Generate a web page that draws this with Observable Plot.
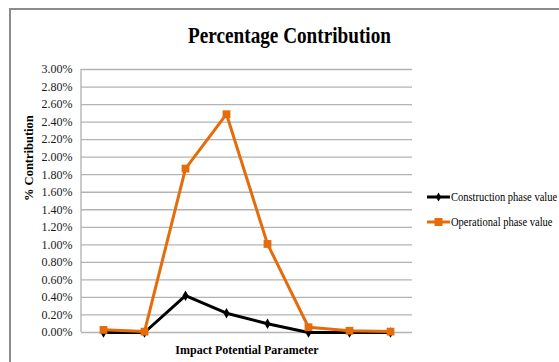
<!DOCTYPE html>
<html><head><meta charset="utf-8">
<script src="https://cdn.jsdelivr.net/npm/d3@7"></script>
<script src="https://cdn.jsdelivr.net/npm/@observablehq/plot@0.6"></script>
<style>
body{margin:0;background:#fff;width:559px;height:362px;overflow:hidden;position:relative;font-family:"Liberation Serif","Times New Roman",serif;}
#frame{position:absolute;left:9px;top:8px;width:600px;height:400px;border:2px solid #8c8c8c;}
#title{position:absolute;left:0;top:23px;width:579px;text-align:center;font-size:24px;line-height:24px;font-weight:bold;color:#000;transform:scaleX(0.8);transform-origin:289.5px 0;white-space:nowrap;}
#chart{position:absolute;left:0;top:50px;}
#legend{position:absolute;left:427px;top:188px;font-size:12.5px;color:#000;}
.row{position:relative;height:25px;white-space:nowrap;}
.row svg{position:absolute;left:0;top:0;}
.row span{position:absolute;left:24px;top:1px;line-height:16px;transform:scaleX(0.84);transform-origin:0 0;}
</style></head>
<body>
<div id="frame"></div>
<div id="title">Percentage Contribution</div>
<div id="chart"></div>
<div id="legend"></div>
<script>
const categories = ["P1","P2","P3","P4","P5","P6","P7","P8"];
const constructionValues = [0.00, 0.00, 0.42, 0.22, 0.10, 0.00, 0.00, 0.00];
const operationalValues = [0.03, 0.01, 1.87, 2.49, 1.01, 0.06, 0.02, 0.01];
const yTicks = [0.0,0.2,0.4,0.6,0.8,1.0,1.2,1.4,1.6,1.8,2.0,2.2,2.4,2.6,2.8,3.0];
const seriesNames = ["Construction phase value","Operational phase value"];
const seriesColors = ["#000000","#e46c0a"];
const yTitle = "% Contribution";
const xTitle = "Impact Potential Parameter";

const cons = categories.map((c,i)=>({cat:c, v:constructionValues[i]}));
const oper = categories.map((c,i)=>({cat:c, v:operationalValues[i]}));

const leftLine = (index, scales, values, dim) => {
  const l = document.createElementNS("http://www.w3.org/2000/svg","line");
  l.setAttribute("x1", dim.marginLeft); l.setAttribute("x2", dim.marginLeft);
  l.setAttribute("y1", dim.marginTop); l.setAttribute("y2", dim.height - dim.marginBottom);
  l.setAttribute("stroke", "#b0b0b0"); l.setAttribute("stroke-width", 1.3);
  return l;
};

const plot = Plot.plot({
  width: 559, height: 312,
  marginLeft: 81, marginRight: 147, marginTop: 19, marginBottom: 30,
  style: {fontFamily: "'Liberation Serif', 'Times New Roman', serif", fontSize: "12px", background: "transparent", color: "#1a1a1a"},
  x: {type: "point", domain: categories, padding: 0.5, axis: null},
  y: {domain: [0, 3.0], axis: null},
  marks: [
    Plot.gridY(yTicks, {stroke: "#b3b3b3", strokeOpacity: 1, strokeWidth: 1.3}),
    leftLine,
    Plot.axisY(yTicks, {tickSize: 0, tickPadding: 9, tickFormat: d => d.toFixed(2) + "%", label: null, fontSize: 12, fontFamily: "'Liberation Serif', serif", letterSpacing: "-0.4px"}),
    Plot.text([yTitle], {frameAnchor: "left", text: d => d, rotate: -90, dx: -53, fontWeight: "bold", fontSize: 12.5, fill: "#000", letterSpacing: "0.3px"}),
    Plot.text([xTitle], {frameAnchor: "bottom", text: d => d, dy: 18, lineAnchor: "middle", fontWeight: "bold", fontSize: 12, fill: "#000", letterSpacing: "-0.4px"}),
    Plot.line(cons, {x: "cat", y: "v", stroke: seriesColors[0], strokeWidth: 3}),
    Plot.dot(cons, {x: "cat", y: "v", symbol: "diamond", r: 3.2, fill: seriesColors[0], stroke: "none"}),
    Plot.line(oper, {x: "cat", y: "v", stroke: seriesColors[1], strokeWidth: 3}),
    Plot.dot(oper, {x: "cat", y: "v", symbol: "square", r: 4.4, fill: seriesColors[1], stroke: "none"})
  ]
});
document.getElementById("chart").appendChild(plot);

const leg = document.getElementById("legend");
seriesNames.forEach((name, i) => {
  const row = document.createElement("div"); row.className = "row";
  const marker = i === 0
    ? `<path d="M11.5,4.5 L14.2,9 L11.5,13.5 L8.8,9 Z" fill="${seriesColors[i]}"/>`
    : `<rect x="7.5" y="5" width="8" height="8" fill="${seriesColors[i]}"/>`;
  row.innerHTML = `<svg width="24" height="18"><line x1="0" x2="23" y1="9" y2="9" stroke="${seriesColors[i]}" stroke-width="3"/>${marker}</svg><span>${name}</span>`;
  leg.appendChild(row);
});
</script>
</body></html>
